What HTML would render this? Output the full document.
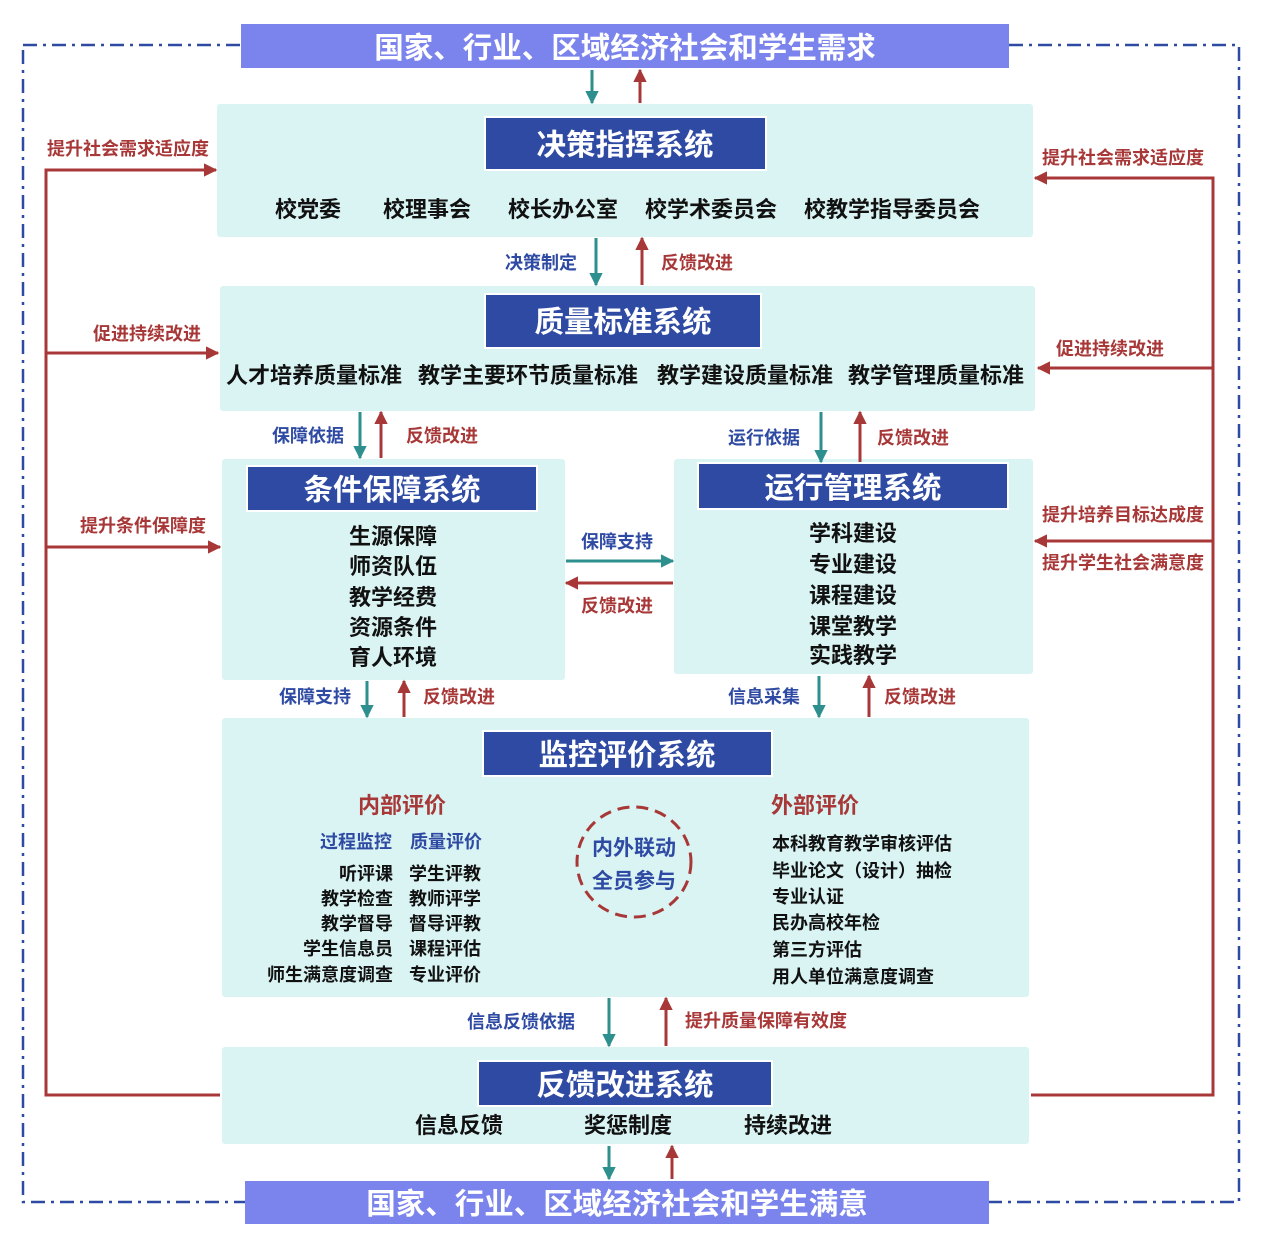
<!DOCTYPE html>
<html><head><meta charset="utf-8"><style>
html,body{margin:0;padding:0;background:#fff}
svg text{font-family:"Liberation Sans","Noto Sans CJK SC",sans-serif;font-weight:bold}
</style></head><body>
<svg width="1262" height="1249" viewBox="0 0 1262 1249" xmlns="http://www.w3.org/2000/svg">
<defs>
<marker id="t" viewBox="0 0 10 10" refX="9" refY="5" markerWidth="4.5" markerHeight="4.5" orient="auto-start-reverse" markerUnits="strokeWidth"><path d="M0,0L10,5L0,10z" fill="#2e8f8f"/></marker>
<marker id="r" viewBox="0 0 10 10" refX="9" refY="5" markerWidth="4.5" markerHeight="4.5" orient="auto-start-reverse" markerUnits="strokeWidth"><path d="M0,0L10,5L0,10z" fill="#a83838"/></marker>
</defs>
<rect x="23" y="45" width="1216" height="1157" fill="none" stroke="#2e4aa3" stroke-width="2.5" stroke-dasharray="14,6,3,6"/>
<rect x="241" y="24" width="768" height="44" fill="#7b84ec"/>
<text x="625" y="58" font-size="29.5" fill="#fff" text-anchor="middle">国家、行业、区域经济社会和学生需求</text>
<rect x="245" y="1181" width="744" height="43" fill="#7b84ec"/>
<text x="617" y="1214" font-size="29.5" fill="#fff" text-anchor="middle">国家、行业、区域经济社会和学生满意</text>
<g fill="#daf4f3">
<rect x="217" y="104" width="816" height="133" rx="3"/>
<rect x="220" y="286" width="815" height="125" rx="3"/>
<rect x="222" y="459" width="343" height="221" rx="3"/>
<rect x="674" y="459" width="359" height="215" rx="3"/>
<rect x="222" y="718" width="807" height="279" rx="3"/>
<rect x="222" y="1047" width="807" height="97" rx="3"/>
</g>
<g fill="#2e4aa3" stroke="#fff" stroke-width="2">
<rect x="485" y="117" width="281" height="53"/>
<rect x="485" y="294" width="276" height="54"/>
<rect x="247" y="466" width="290" height="45"/>
<rect x="698" y="463" width="310" height="46"/>
<rect x="483" y="731" width="289" height="45"/>
<rect x="478" y="1061" width="294" height="45"/>
</g>
<g font-size="29.5" fill="#fff" text-anchor="middle">
<text x="625" y="155">决策指挥系统</text>
<text x="623" y="332">质量标准系统</text>
<text x="392" y="500">条件保障系统</text>
<text x="853" y="498">运行管理系统</text>
<text x="627" y="765">监控评价系统</text>
<text x="625" y="1095">反馈改进系统</text>
</g>
<g font-size="22" fill="#111" text-anchor="middle">
<text x="308" y="217">校党委</text><text x="427" y="217">校理事会</text><text x="563" y="217">校长办公室</text><text x="711" y="217">校学术委员会</text><text x="892" y="217">校教学指导委员会</text>
<text x="314" y="383">人才培养质量标准</text><text x="528" y="383">教学主要环节质量标准</text><text x="745" y="383">教学建设质量标准</text><text x="936" y="383">教学管理质量标准</text>
<text x="393" y="544">生源保障</text><text x="393" y="574">师资队伍</text><text x="393" y="605">教学经费</text><text x="393" y="635">资源条件</text><text x="393" y="665">育人环境</text>
<text x="853" y="541">学科建设</text><text x="853" y="572">专业建设</text><text x="853" y="603">课程建设</text><text x="853" y="634">课堂教学</text><text x="853" y="663">实践教学</text>
<text x="459" y="1133">信息反馈</text><text x="628" y="1133">奖惩制度</text><text x="788" y="1133">持续改进</text>
</g>
<text x="402" y="813" font-size="22" fill="#a83838" text-anchor="middle">内部评价</text>
<text x="815" y="813" font-size="22" fill="#a83838" text-anchor="middle">外部评价</text>
<g font-size="18" fill="#2e4aa3" text-anchor="middle"><text x="356" y="848">过程监控</text><text x="446" y="848">质量评价</text></g>
<g font-size="18" fill="#111" text-anchor="end">
<text x="393" y="880">听评课</text><text x="393" y="905">教学检查</text><text x="393" y="930">教学督导</text><text x="393" y="955">学生信息员</text><text x="393" y="981">师生满意度调查</text>
</g>
<g font-size="18" fill="#111">
<text x="409" y="880">学生评教</text><text x="409" y="905">教师评学</text><text x="409" y="930">督导评教</text><text x="409" y="955">课程评估</text><text x="409" y="981">专业评价</text>
<text x="772" y="850">本科教育教学审核评估</text><text x="772" y="877">毕业论文（设计）抽检</text><text x="772" y="903">专业认证</text><text x="772" y="929">民办高校年检</text><text x="772" y="956">第三方评估</text><text x="772" y="983">用人单位满意度调查</text>
</g>
<ellipse cx="634" cy="862" rx="57" ry="55" fill="none" stroke="#a83838" stroke-width="3" stroke-dasharray="12,7"/>
<g font-size="21" fill="#2e4aa3" text-anchor="middle"><text x="634" y="855">内外联动</text><text x="634" y="888">全员参与</text></g>
<g stroke-width="3" fill="none">
<line x1="592" y1="70" x2="592" y2="103" stroke="#2e8f8f" marker-end="url(#t)"/>
<line x1="640" y1="103" x2="640" y2="70" stroke="#a83838" marker-end="url(#r)"/>
<line x1="596" y1="238" x2="596" y2="285" stroke="#2e8f8f" marker-end="url(#t)"/>
<line x1="642" y1="285" x2="642" y2="238" stroke="#a83838" marker-end="url(#r)"/>
<line x1="360" y1="412" x2="360" y2="458" stroke="#2e8f8f" marker-end="url(#t)"/>
<line x1="381" y1="458" x2="381" y2="412" stroke="#a83838" marker-end="url(#r)"/>
<line x1="821" y1="412" x2="821" y2="462" stroke="#2e8f8f" marker-end="url(#t)"/>
<line x1="860" y1="462" x2="860" y2="412" stroke="#a83838" marker-end="url(#r)"/>
<line x1="566" y1="561" x2="673" y2="561" stroke="#2e8f8f" marker-end="url(#t)"/>
<line x1="673" y1="583" x2="566" y2="583" stroke="#a83838" marker-end="url(#r)"/>
<line x1="367" y1="681" x2="367" y2="717" stroke="#2e8f8f" marker-end="url(#t)"/>
<line x1="404" y1="717" x2="404" y2="681" stroke="#a83838" marker-end="url(#r)"/>
<line x1="819" y1="676" x2="819" y2="717" stroke="#2e8f8f" marker-end="url(#t)"/>
<line x1="869" y1="717" x2="869" y2="676" stroke="#a83838" marker-end="url(#r)"/>
<line x1="609" y1="998" x2="609" y2="1046" stroke="#2e8f8f" marker-end="url(#t)"/>
<line x1="666" y1="1046" x2="666" y2="998" stroke="#a83838" marker-end="url(#r)"/>
<line x1="609" y1="1146" x2="609" y2="1179" stroke="#2e8f8f" marker-end="url(#t)"/>
<line x1="672" y1="1179" x2="672" y2="1146" stroke="#a83838" marker-end="url(#r)"/>
<polyline points="220,1095 46,1095 46,170 216,170" stroke="#a83838" marker-end="url(#r)"/>
<line x1="46" y1="353" x2="218" y2="353" stroke="#a83838" marker-end="url(#r)"/>
<line x1="46" y1="547" x2="220" y2="547" stroke="#a83838" marker-end="url(#r)"/>
<polyline points="1031,1095 1213,1095 1213,178 1035,178" stroke="#a83838" marker-end="url(#r)"/>
<line x1="1213" y1="368" x2="1038" y2="368" stroke="#a83838" marker-end="url(#r)"/>
<line x1="1213" y1="541" x2="1035" y2="541" stroke="#a83838" marker-end="url(#r)"/>
</g>
<g font-size="18" text-anchor="middle">
<text x="541" y="269" fill="#2e4aa3">决策制定</text><text x="697" y="269" fill="#a83838">反馈改进</text>
<text x="308" y="442" fill="#2e4aa3">保障依据</text><text x="442" y="442" fill="#a83838">反馈改进</text>
<text x="764" y="444" fill="#2e4aa3">运行依据</text><text x="913" y="444" fill="#a83838">反馈改进</text>
<text x="617" y="548" fill="#2e4aa3">保障支持</text><text x="617" y="612" fill="#a83838">反馈改进</text>
<text x="315" y="703" fill="#2e4aa3">保障支持</text><text x="459" y="703" fill="#a83838">反馈改进</text>
<text x="764" y="703" fill="#2e4aa3">信息采集</text><text x="920" y="703" fill="#a83838">反馈改进</text>
<text x="521" y="1028" fill="#2e4aa3">信息反馈依据</text><text x="766" y="1027" fill="#a83838">提升质量保障有效度</text>
<g fill="#a83838">
<text x="128" y="155">提升社会需求适应度</text><text x="147" y="340">促进持续改进</text><text x="143" y="532">提升条件保障度</text>
<text x="1123" y="164">提升社会需求适应度</text><text x="1110" y="355">促进持续改进</text><text x="1123" y="521">提升培养目标达成度</text><text x="1123" y="569">提升学生社会满意度</text>
</g>
</g>
</svg>
</body></html>
